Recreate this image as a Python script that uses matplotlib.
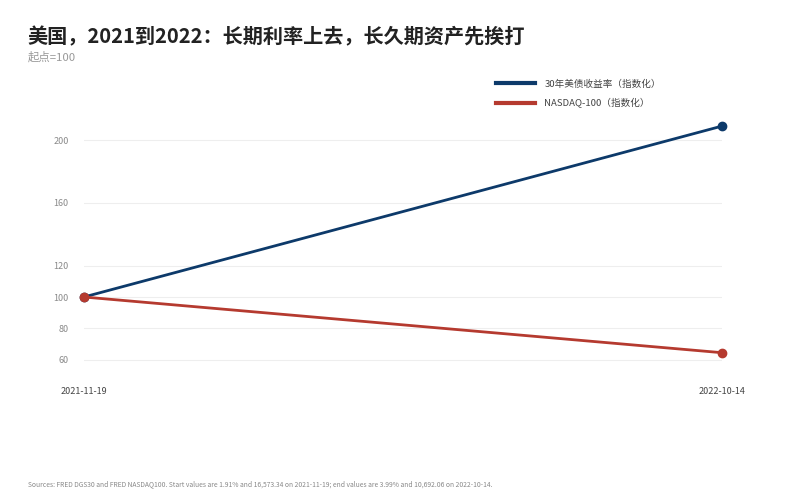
import pandas as pd
import matplotlib.pyplot as plt
import matplotlib.dates as mdates
from matplotlib.lines import Line2D

plt.rcParams['font.family'] = ['Noto Sans CJK SC', 'DejaVu Sans']

# 数据
dates = pd.to_datetime(['2021-11-19', '2022-10-14'])
yield_30y = [1.91, 3.99]
nasdaq100 = [16573.34, 10692.06]
y_ticks = [60, 80, 100, 120, 160, 200]
labels = ['30年美债收益率（指数化）', 'NASDAQ-100（指数化）']

yield_idx = [v / yield_30y[0] * 100 for v in yield_30y]
nasdaq_idx = [v / nasdaq100[0] * 100 for v in nasdaq100]

blue = '#0d3a6a'
red = '#b53a2f'

fig = plt.figure(figsize=(7.92, 4.96), dpi=100)
ax = fig.add_axes([0.106, 0.2588, 0.8056, 0.4968])

ax.plot(dates, yield_idx, color=blue, lw=2.0, marker='o', ms=6,
        clip_on=False, zorder=3)
ax.plot(dates, nasdaq_idx, color=red, lw=2.0, marker='o', ms=6,
        clip_on=False, zorder=3)

ax.set_xlim(dates[0], dates[1])
ax.set_ylim(55, 212)
ax.set_yticks(y_ticks)
ax.set_xticks(dates)
ax.xaxis.set_major_formatter(mdates.DateFormatter('%Y-%m-%d'))
ax.grid(axis='y', color='#eeeeee', lw=0.8)
ax.grid(axis='x', visible=False)
ax.set_axisbelow(True)
for s in ax.spines.values():
    s.set_visible(False)
ax.tick_params(axis='y', length=0, pad=11, labelsize=6.5, labelcolor='#8a8a8a')
ax.tick_params(axis='x', length=0, pad=14, labelsize=6.5, labelcolor='#444444')

# 图例（无标记点）
handles = [Line2D([], [], color=blue, lw=3), Line2D([], [], color=red, lw=3)]
ax.legend(handles, labels, loc='upper left', bbox_to_anchor=(0.633, 1.205),
          frameon=False, fontsize=6.9, labelcolor='#444444', handlelength=4.0,
          handletextpad=1.0, labelspacing=1.0)

fig.text(0.035, 0.925, '美国，2021到2022：长期利率上去，长久期资产先挨打',
         fontsize=14.5, fontweight='bold', color='#222222', va='center')
fig.text(0.035, 0.885, '起点=100', fontsize=8.2, color='#999999', va='center')
fig.text(0.035, 0.024,
         'Sources: FRED DGS30 and FRED NASDAQ100. Start values are 1.91% and 16,573.34 on 2021-11-19; '
         'end values are 3.99% and 10,692.06 on 2022-10-14.',
         fontsize=4.85, color='#888888', va='center')

fig.savefig('out.png', dpi=100)
